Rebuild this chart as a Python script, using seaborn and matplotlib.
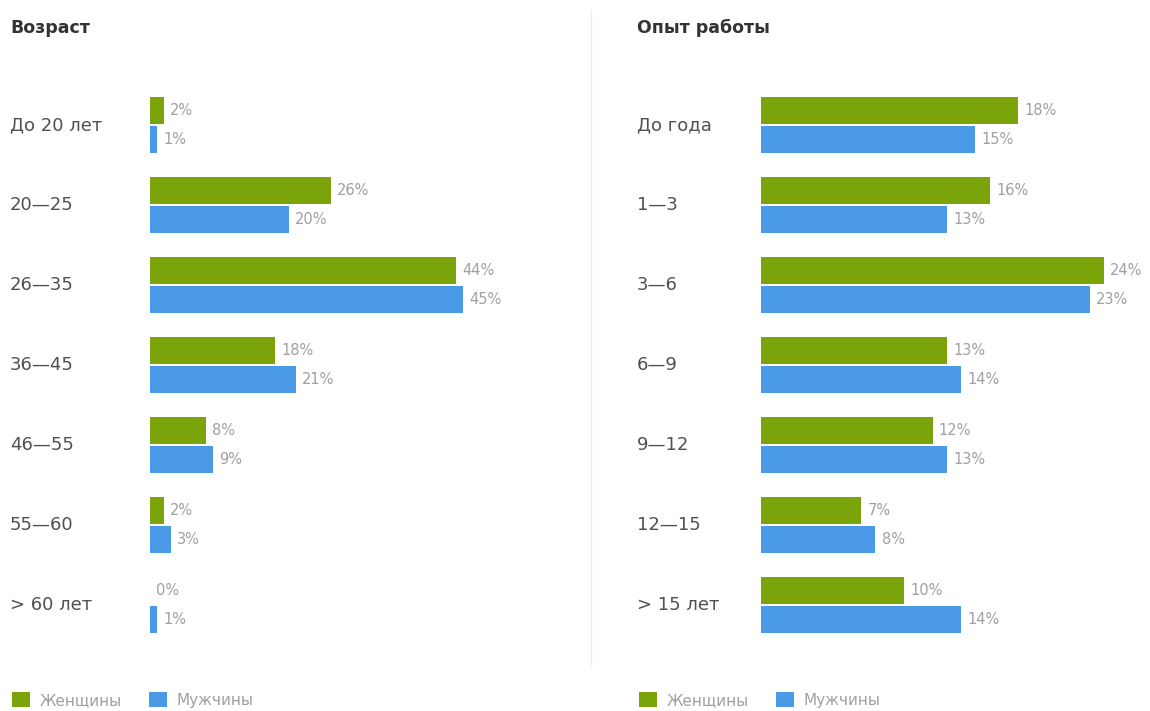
import matplotlib
matplotlib.use("Agg")
import matplotlib.pyplot as plt
import matplotlib.transforms as mtransforms
from matplotlib.patches import Patch
from matplotlib.lines import Line2D
import pandas as pd
import seaborn as sns

# Survey breakdown by sex
age_groups = ["До 20 лет", "20—25", "26—35", "36—45", "46—55", "55—60", "> 60 лет"]
age_women = [2, 26, 44, 18, 8, 2, 0]
age_men = [1, 20, 45, 21, 9, 3, 1]

exp_groups = ["До года", "1—3", "3—6", "6—9", "9—12", "12—15", "> 15 лет"]
exp_women = [18, 16, 24, 13, 12, 7, 10]
exp_men = [15, 13, 23, 14, 13, 8, 14]

series_names = ["Женщины", "Мужчины"]
colors = ["#7ba40a", "#4a9ae8"]

sns.set_theme(style="white")
plt.rcParams["font.family"] = ["DejaVu Sans"]

W, H = 1150, 711
fig = plt.figure(figsize=(W / 100, H / 100), dpi=100)
fig.patch.set_facecolor("white")


def long_frame(groups, women, men):
    rows = []
    for g, w, m in zip(groups, women, men):
        rows.append({"group": g, "sex": series_names[0], "value": w})
        rows.append({"group": g, "sex": series_names[1], "value": m})
    return pd.DataFrame(rows)


def panel(left_px, xmax, title, groups, women, men, label_px):
    ax = fig.add_axes([left_px / W, 1 - 645 / H, 386 / W, 560 / H])
    df = long_frame(groups, women, men)
    sns.barplot(data=df, y="group", x="value", hue="sex", orient="h",
                palette=colors, width=0.72, gap=0.05, ax=ax, legend=False,
                saturation=1, errorbar=None, linewidth=0)
    ax.set_xlim(0, xmax)
    ax.set_ylim(len(groups) - 0.5, -0.5)
    for c in ax.containers:
        ax.bar_label(c, fmt="%d%%", padding=4.5, color="#a0a0a0", fontsize=10.5)
    ax.set_xlabel("")
    ax.set_ylabel("")
    ax.set_xticks([])
    ax.set_yticks([])
    for s in ax.spines.values():
        s.set_visible(False)
    ax.patch.set_alpha(0)

    trans = mtransforms.blended_transform_factory(fig.transFigure, ax.transData)
    for i, g in enumerate(groups):
        ax.text(label_px / W, i, g, transform=trans, ha="left", va="center",
                fontsize=13, color="#505050")

    fig.text(label_px / W, 1 - 28 / H, title, ha="left", va="center",
             fontsize=12.5, fontweight="bold", color="#333333")

    handles = [Patch(facecolor=c, edgecolor="none") for c in colors]
    fig.legend(handles, series_names, loc="center left",
               bbox_to_anchor=((label_px + 2) / W, 1 - 700 / H),
               ncol=2, frameon=False, handlelength=1.2, handleheight=1.1,
               handletextpad=0.6, columnspacing=1.8, borderpad=0,
               borderaxespad=0, fontsize=11, labelcolor="#a0a0a0")
    return ax


panel(150, 55.5, "Возраст", age_groups, age_women, age_men, 10)
panel(761, 27.0, "Опыт работы", exp_groups, exp_women, exp_men, 637)

# thin divider between the two panels
fig.add_artist(Line2D([591 / W, 591 / W], [1 - 10 / H, 1 - 665 / H],
                      transform=fig.transFigure, color="#ececec", lw=1))

fig.savefig("out.png", dpi=100, facecolor="white")
